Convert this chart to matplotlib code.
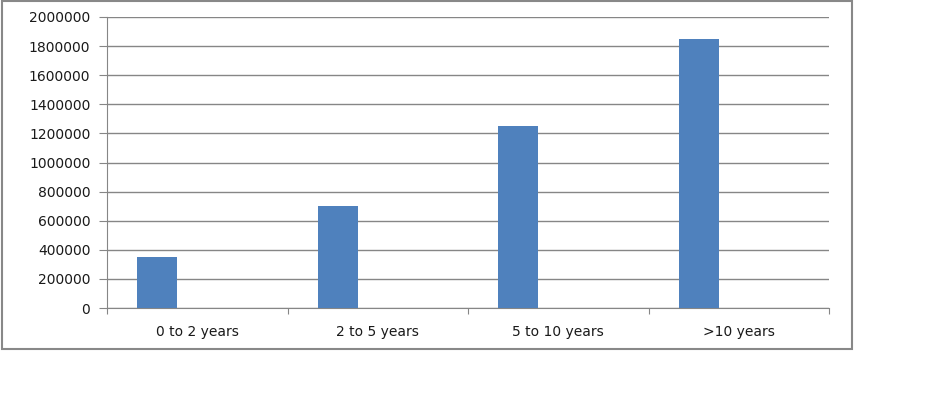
import matplotlib.pyplot as plt
import matplotlib.patches as patches
import numpy as np

# Chart data
categories = ["0 to 2 years", "2 to 5 years", "5 to 10 years", ">10 years"]
values = [350000, 700000, 1250000, 1850000]
y_ticks = [0, 200000, 400000, 600000, 800000, 1000000, 1200000, 1400000, 1600000, 1800000, 2000000]

bar_color = "#4F81BD"
grid_color = "#868686"
text_color = "#1a1a1a"

fig = plt.figure(figsize=(9.38, 3.93), dpi=100)
ax = fig.add_axes([107 / 938, 85 / 393, 722 / 938, 291 / 393])

# Excel style clustered layout: bar sits at the left slot of three
x = np.arange(len(categories))
ax.bar(x - 2 / 9, values, width=2 / 9, color=bar_color, zorder=3)

ax.set_xlim(-0.5, len(categories) - 0.5)
ax.set_ylim(0, 2000000)
ax.set_yticks(y_ticks)
ax.set_yticklabels([str(v) for v in y_ticks])
ax.yaxis.grid(True, color=grid_color, linewidth=1)
ax.set_axisbelow(True)

# Tick marks at category boundaries, labels at centres
ax.set_xticks(np.arange(-0.5, len(categories)), minor=False)
ax.set_xticklabels([])
ax.set_xticks(x, minor=True)
ax.set_xticklabels(categories, minor=True)
ax.tick_params(axis="x", which="major", direction="out", length=4, color=grid_color)
ax.tick_params(axis="x", which="minor", length=0, pad=12, labelsize=10, labelcolor=text_color)
ax.tick_params(axis="y", direction="out", length=6, color=grid_color, pad=6,
               labelsize=10, labelcolor=text_color)

for side in ["top", "right"]:
    ax.spines[side].set_visible(False)
for side in ["left", "bottom"]:
    ax.spines[side].set_color(grid_color)

# Outer chart border
border = patches.Rectangle((2 / 938, 44 / 393), 850 / 938, 348 / 393,
                           transform=fig.transFigure, fill=False,
                           edgecolor="#888888", linewidth=1.5)
fig.patches.append(border)

fig.savefig("out.png", dpi=100)
